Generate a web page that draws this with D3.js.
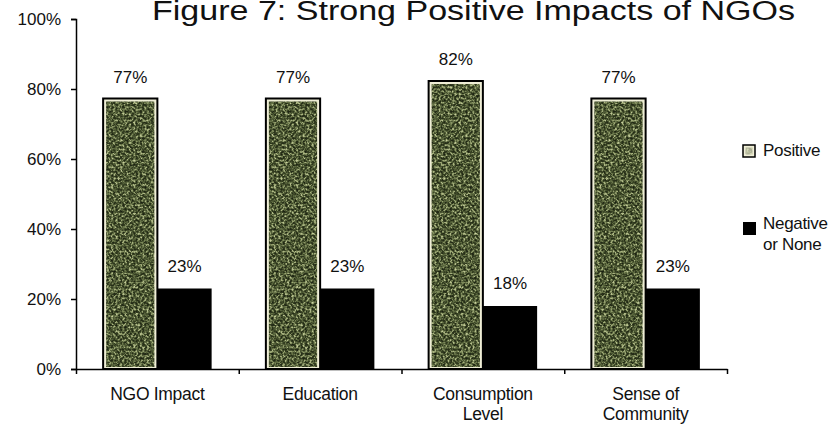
<!DOCTYPE html>
<html>
<head>
<meta charset="utf-8">
<script src="https://cdn.jsdelivr.net/npm/d3@7"></script>
<style>
  body { margin: 0; background: #fff; }
  svg text { font-family: "Liberation Sans", Arial, sans-serif; fill: #111; }
</style>
</head>
<body>
<svg id="chart" width="840" height="435"></svg>
<script>
// Survey shares per impact area
const categories = ["NGO Impact", "Education", "Consumption Level", "Sense of Community"];
const categoryLines = [["NGO Impact"], ["Education"], ["Consumption", "Level"], ["Sense of", "Community"]];
const seriesNames = ["Positive", "Negative or None"];
const positive = [0.77, 0.77, 0.82, 0.77];
const negative = [0.23, 0.23, 0.18, 0.23];
const yTicks = [0, 0.2, 0.4, 0.6, 0.8, 1.0];
const titleText = "Figure 7: Strong Positive Impacts of NGOs";

const svg = d3.select("#chart");
const pct = d3.format(".0%");

const plotLeft = 76, plotRight = 727, plotTop = 19, plotBottom = 369;

const y = d3.scaleLinear().domain([0, 1]).range([plotBottom, plotTop]);
const x0 = d3.scaleBand().domain(categories).range([plotLeft, plotRight]).paddingInner(0).paddingOuter(0);
const x1 = d3.scaleBand().domain(seriesNames).range([0, x0.bandwidth()]).paddingInner(0).paddingOuter(0.5);
const boundaries = d3.scaleLinear().domain([0, categories.length]).range([plotLeft, plotRight]);

// grainy olive fill used for the "Positive" bars
const defs = svg.append("defs");
const f = defs.append("filter").attr("id", "grain")
  .attr("x", 0).attr("y", 0).attr("width", 1).attr("height", 1)
  .attr("color-interpolation-filters", "sRGB");
f.append("feTurbulence").attr("type", "fractalNoise").attr("baseFrequency", 0.45)
  .attr("numOctaves", 2).attr("seed", 7).attr("result", "noise");
f.append("feColorMatrix").attr("in", "noise").attr("type", "matrix")
  .attr("values", "1 0 0 0 0  1 0 0 0 0  1 0 0 0 0  0 0 0 0 1").attr("result", "gray");
const ct = f.append("feComponentTransfer").attr("in", "gray").attr("result", "tinted");
ct.append("feFuncR").attr("type", "table").attr("tableValues", "0.08 0.10 0.14 0.22 0.40 0.66 0.80 0.85");
ct.append("feFuncG").attr("type", "table").attr("tableValues", "0.10 0.12 0.17 0.26 0.45 0.70 0.82 0.87");
ct.append("feFuncB").attr("type", "table").attr("tableValues", "0.06 0.07 0.09 0.14 0.28 0.50 0.64 0.70");
f.append("feComposite").attr("in", "tinted").attr("in2", "SourceGraphic").attr("operator", "in");

// title
svg.append("text")
  .attr("x", 473.5).attr("y", 20)
  .attr("text-anchor", "middle")
  .attr("font-size", 27)
  .attr("textLength", 643).attr("lengthAdjust", "spacingAndGlyphs")
  .text(titleText);

// bars
const groups = svg.append("g").selectAll("g")
  .data(categories.map((c, i) => ({ c, pos: positive[i], neg: negative[i] })))
  .join("g")
  .attr("transform", d => `translate(${x0(d.c)},0)`);

const bw = x1.bandwidth();

groups.append("rect")
  .attr("x", x1("Positive"))
  .attr("y", d => y(d.pos) - 1)
  .attr("width", bw)
  .attr("height", d => y(0) - y(d.pos) + 1)
  .attr("fill", "#efeed6")
  .attr("stroke", "#000")
  .attr("stroke-width", 2);

groups.append("rect")
  .attr("x", x1("Positive") + 3)
  .attr("y", d => y(d.pos) + 2)
  .attr("width", bw - 6)
  .attr("height", d => y(0) - y(d.pos) - 4)
  .attr("fill", "#000")
  .attr("filter", "url(#grain)");

groups.append("rect")
  .attr("x", x1("Negative or None"))
  .attr("y", d => y(d.neg))
  .attr("width", bw)
  .attr("height", d => y(0) - y(d.neg))
  .attr("fill", "#000");

// value labels
groups.append("text")
  .attr("x", x1("Positive") + bw / 2)
  .attr("y", d => y(d.pos) - 17)
  .attr("text-anchor", "middle")
  .attr("font-size", 17)
  .text(d => pct(d.pos));

groups.append("text")
  .attr("x", x1("Negative or None") + bw / 2)
  .attr("y", d => y(d.neg) - 17)
  .attr("text-anchor", "middle")
  .attr("font-size", 17)
  .text(d => pct(d.neg));

// y axis
const yAxis = svg.append("g")
  .attr("transform", `translate(${plotLeft},0)`)
  .call(d3.axisLeft(y).tickValues(yTicks).tickFormat(pct).tickSize(5).tickSizeOuter(5).tickPadding(10));
yAxis.select(".domain").attr("stroke", "#000").attr("stroke-width", 1.5);
yAxis.selectAll(".tick line").attr("stroke", "#000").attr("stroke-width", 1.5);
yAxis.selectAll(".tick text").attr("font-size", 17).attr("font-family", "Liberation Sans, Arial, sans-serif").attr("fill", "#111");

// x axis (ticks at category boundaries)
const xAxis = svg.append("g")
  .attr("transform", `translate(0,${plotBottom})`)
  .call(d3.axisBottom(boundaries).tickValues(d3.range(categories.length + 1)).tickFormat("").tickSize(5).tickSizeOuter(0));
xAxis.select(".domain").attr("stroke", "#000").attr("stroke-width", 1.5);
xAxis.selectAll(".tick line").attr("stroke", "#000").attr("stroke-width", 1.5);

// category labels
const catLabels = svg.append("g").selectAll("text")
  .data(categories.map((c, i) => ({ c, lines: categoryLines[i] })))
  .join("text")
  .attr("text-anchor", "middle")
  .attr("font-size", 17.5)
  .attr("letter-spacing", -0.3)
  .attr("x", d => x0(d.c) + x0.bandwidth() / 2)
  .attr("y", 400);
catLabels.selectAll("tspan")
  .data(d => d.lines.map((t, j) => ({ t, j, x: x0(d.c) + x0.bandwidth() / 2 })))
  .join("tspan")
  .attr("x", d => d.x)
  .attr("dy", d => d.j === 0 ? 0 : 20)
  .text(d => d.t);

// legend
const legend = svg.append("g");
legend.append("rect").attr("x", 743).attr("y", 145).attr("width", 12).attr("height", 12)
  .attr("fill", "#efeed6").attr("stroke", "#000").attr("stroke-width", 1.5);
legend.append("rect").attr("x", 745.5).attr("y", 147.5).attr("width", 7).attr("height", 7)
  .attr("fill", "#000").attr("filter", "url(#grain)").attr("opacity", 0.35);
legend.append("text").attr("x", 763).attr("y", 156).attr("font-size", 17).attr("letter-spacing", -0.3).text(seriesNames[0]);

legend.append("rect").attr("x", 743).attr("y", 222).attr("width", 13).attr("height", 13).attr("fill", "#000");
legend.append("text").attr("x", 763).attr("y", 229).attr("font-size", 17).attr("letter-spacing", -0.3).text("Negative");
legend.append("text").attr("x", 763).attr("y", 250).attr("font-size", 17).attr("letter-spacing", -0.3).text("or None");
</script>
</body>
</html>
